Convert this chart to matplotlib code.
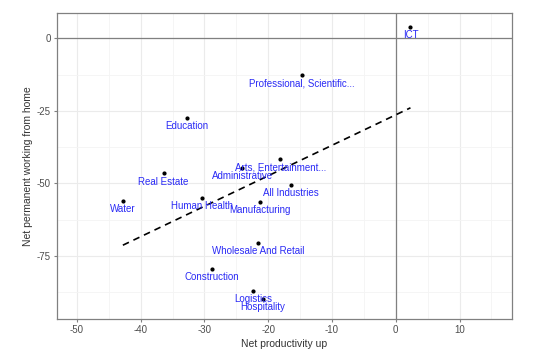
import numpy as np
import matplotlib.pyplot as plt

plt.rcParams['font.family'] = ['Liberation Sans', 'DejaVu Sans']
plt.rcParams['axes.unicode_minus'] = False

# industrias e valores
industries = ["ICT", "Professional, Scientific...", "Education", "Real Estate", "Water",
              "Human Health", "Manufacturing", "Wholesale And Retail", "Construction",
              "Logistics", "Hospitality", "Arts, Entertainment...", "Administrative",
              "All Industries"]
productivity = [2.3, -14.7, -32.8, -36.4, -42.8, -30.4, -21.3, -21.6, -28.8, -22.4,
                -20.9, -18.1, -24.1, -16.5]
wfh = [4.0, -12.7, -27.6, -46.6, -56.0, -55.1, -56.4, -70.5, -79.4, -87.2,
       -89.9, -41.6, -44.8, -50.6]

xticks = [-50, -40, -30, -20, -10, 0, 10]
yticks = [0, -25, -50, -75]

x = np.array(productivity)
y = np.array(wfh)

fig = plt.figure(figsize=(5.6, 3.53), dpi=100)
ax = fig.add_axes([0.101, 0.0955, 0.813, 0.8665])

# grade
ax.set_xticks(xticks)
ax.set_yticks(yticks)
ax.set_xticks(np.arange(-55, 20, 5), minor=True)
ax.set_yticks(np.arange(-100, 10, 12.5), minor=True)
ax.grid(True, which='major', color='#ebebeb', lw=0.8)
ax.grid(True, which='minor', color='#f4f4f4', lw=0.6)
ax.set_axisbelow(True)

ax.axhline(0, color='#808080', lw=0.9, zorder=1)
ax.axvline(0, color='#808080', lw=0.9, zorder=1)

# reta de tendencia
b, a = np.polyfit(x, y, 1)
xl = np.array([x.min(), x.max()])
ax.plot(xl, a + b*xl, color='black', lw=1.2, ls=(0, (4, 3)), zorder=2)

ax.scatter(x, y, s=4, color='black', zorder=3)
for xi, yi, name in zip(x, y, industries):
    ax.annotate(name, (xi, yi), xytext=(0, -5.8), textcoords='offset points',
                ha='center', va='center', color='#2a2af5', fontsize=7, zorder=4)

ax.set_xlim(-53.2, 18.2)
ax.set_ylim(-96.9, 8.6)

for s in ax.spines.values():
    s.set_color('#808080')
    s.set_linewidth(0.9)

ax.tick_params(axis='both', colors='#808080', labelcolor='#4d4d4d', labelsize=7,
               length=2, pad=2)
ax.tick_params(which='minor', length=0)

ax.set_xlabel("Net productivity up", fontsize=7.5, color='#333333', labelpad=3)
ax.set_ylabel("Net permanent working from home", fontsize=7.5, color='#333333', labelpad=3)

fig.savefig("out.png", dpi=100)
